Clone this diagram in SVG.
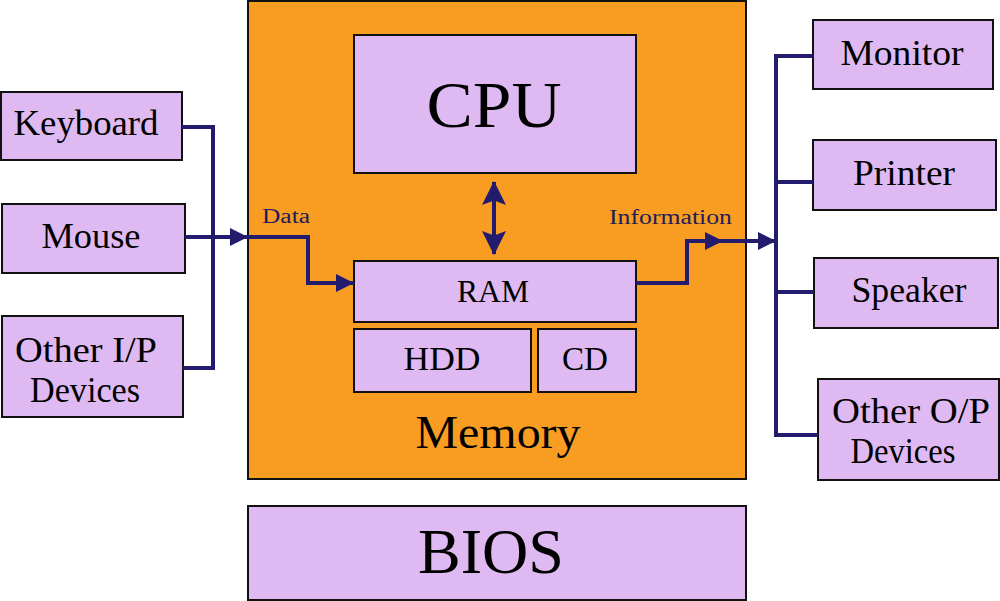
<svg xmlns="http://www.w3.org/2000/svg" width="1000" height="601" viewBox="0 0 1000 601">
<style>
.box{fill:#dfbaf2;stroke:#111;stroke-width:2}
.mem{fill:#f99c22;stroke:#111;stroke-width:2}
.t{font-family:"Liberation Serif","Times New Roman",serif;fill:#000;text-anchor:middle}
.lbl{font-family:"Liberation Serif","Times New Roman",serif;fill:#231c5a;font-size:20px}
.ln{fill:none;stroke:#221b6e;stroke-width:4}
</style>
<defs>
<marker id="ah" markerUnits="userSpaceOnUse" markerWidth="18" markerHeight="18" viewBox="0 0 16 16" refX="16" refY="8" orient="auto">
<path d="M0 0 L16 8 L0 16 Z" fill="#221b6e"/>
</marker>
<marker id="ahb" markerUnits="userSpaceOnUse" markerWidth="24" markerHeight="24" viewBox="0 0 22 22" refX="21" refY="11" orient="auto-start-reverse">
<path d="M0 0 L22 11 L0 22 L4 11 Z" fill="#221b6e"/>
</marker>
</defs>
<rect width="1000" height="601" fill="#fff"/>
<g id="memory">
<rect class="mem" x="248" y="1" width="498" height="478"/>
<text class="t" x="498" y="448" font-size="46" textLength="165" lengthAdjust="spacingAndGlyphs">Memory</text>
</g>
<g id="cpu">
<rect class="box" x="354" y="35" width="282" height="138"/>
<text class="t" x="494" y="127" font-size="66" textLength="135" lengthAdjust="spacingAndGlyphs">CPU</text>
</g>
<g id="ram">
<rect class="box" x="354" y="261" width="282" height="61"/>
<text class="t" x="493" y="302" font-size="32" textLength="72" lengthAdjust="spacingAndGlyphs">RAM</text>
</g>
<g id="hdd">
<rect class="box" x="354" y="329" width="177" height="63"/>
<text class="t" x="442" y="370" font-size="33" textLength="77" lengthAdjust="spacingAndGlyphs">HDD</text>
</g>
<g id="cd">
<rect class="box" x="538" y="329" width="98" height="63"/>
<text class="t" x="585" y="370" font-size="33" textLength="46" lengthAdjust="spacingAndGlyphs">CD</text>
</g>
<g id="bios">
<rect class="box" x="248" y="506" width="498" height="94"/>
<text class="t" x="491" y="573" font-size="64" textLength="146" lengthAdjust="spacingAndGlyphs">BIOS</text>
</g>
<g id="keyboard">
<rect class="box" x="1" y="92" width="181" height="68"/>
<text class="t" x="86" y="135" font-size="35" textLength="145" lengthAdjust="spacingAndGlyphs">Keyboard</text>
</g>
<g id="mouse">
<rect class="box" x="2" y="204" width="183" height="69"/>
<text class="t" x="91" y="248" font-size="35" textLength="99" lengthAdjust="spacingAndGlyphs">Mouse</text>
</g>
<g id="other-ip">
<rect class="box" x="2" y="316" width="181" height="101"/>
<text class="t" x="86" y="362" font-size="35" textLength="142" lengthAdjust="spacingAndGlyphs">Other I/P</text>
<text class="t" x="85" y="402" font-size="35" textLength="110" lengthAdjust="spacingAndGlyphs">Devices</text>
</g>
<g id="monitor">
<rect class="box" x="813" y="20" width="180" height="69"/>
<text class="t" x="902" y="65" font-size="35" textLength="123" lengthAdjust="spacingAndGlyphs">Monitor</text>
</g>
<g id="printer">
<rect class="box" x="813" y="140" width="183" height="70"/>
<text class="t" x="904" y="185" font-size="35" textLength="102" lengthAdjust="spacingAndGlyphs">Printer</text>
</g>
<g id="speaker">
<rect class="box" x="814" y="258" width="184" height="70"/>
<text class="t" x="909" y="302" font-size="35" textLength="115" lengthAdjust="spacingAndGlyphs">Speaker</text>
</g>
<g id="other-op">
<rect class="box" x="818" y="379" width="181" height="101"/>
<text class="t" x="911" y="423" font-size="35" textLength="158" lengthAdjust="spacingAndGlyphs">Other O/P</text>
<text class="t" x="903" y="463" font-size="35" textLength="105" lengthAdjust="spacingAndGlyphs">Devices</text>
</g>
<g id="connectors">
<path class="ln" d="M182 127 H213 V368 H183"/>
<path class="ln" d="M185 237 H248" marker-end="url(#ah)"/>
<path class="ln" d="M248 237 H308 V283 H354" marker-end="url(#ah)"/>
<path class="ln" d="M494 182 V254" marker-start="url(#ahb)" marker-end="url(#ahb)"/>
<path class="ln" d="M636 283 H687 V241 H723" marker-end="url(#ah)"/>
<path class="ln" d="M721 241 H776" marker-end="url(#ah)"/>
<path class="ln" d="M813 56 H776 V435 H818 M776 182 H813 M776 292 H814"/>
<text class="lbl" x="262" y="223" textLength="48" lengthAdjust="spacingAndGlyphs">Data</text>
<text class="lbl" x="609" y="224" textLength="123" lengthAdjust="spacingAndGlyphs">Information</text>
</g>
</svg>
